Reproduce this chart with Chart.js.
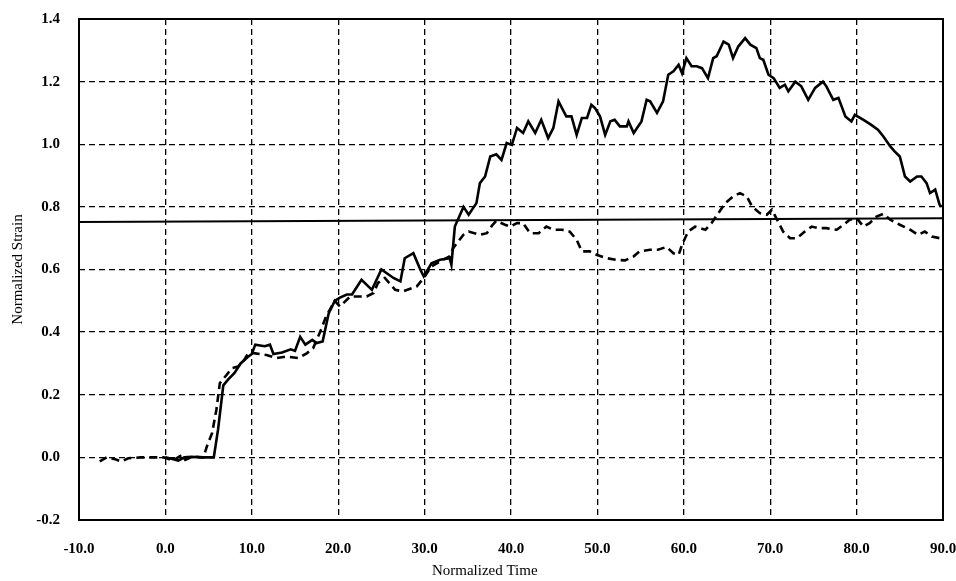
<!DOCTYPE html>
<html>
<head>
<meta charset="utf-8">
<script src="https://cdn.jsdelivr.net/npm/chart.js@4/dist/chart.umd.min.js"></script>
<style>
  html, body { margin: 0; padding: 0; background: #fff; }
  canvas { display: block; }
</style>
</head>
<body>
<canvas id="c" width="956" height="581"></canvas>
<script>
// ---- Data ----
const solidTime = [0,0.8,1.5,2.2,3,4,5,5.6,6.1,6.7,7.3,8.0,8.7,9.5,10.0,10.4,11.5,12.1,12.5,13.5,14.5,15.0,15.6,16.2,17.0,17.5,18.2,18.9,19.6,20.2,21.0,21.6,22.7,23.9,25.0,26.4,27.2,27.7,28.7,29.5,29.9,30.8,31.8,32.9,33.1,33.5,34.5,35.1,36.0,36.4,37.0,37.6,38.3,38.9,39.5,40.1,40.7,41.4,42.0,42.8,43.5,44.3,44.9,45.5,46.4,47.0,47.6,48.2,48.8,49.3,49.7,50.3,50.9,51.5,52.0,52.6,53.4,53.6,54.2,55.1,55.7,56.1,56.9,57.6,58.2,58.8,59.4,59.8,60.3,60.9,61.5,62.1,62.8,63.4,63.8,64.6,65.2,65.7,66.3,67.1,67.7,68.4,68.8,69.2,69.8,70.4,71.1,71.7,72.1,72.9,73.6,74.4,75.2,76.1,76.5,77.3,77.9,78.7,79.4,79.8,80.8,81.7,82.5,83.1,83.9,84.4,85.0,85.6,86.2,87.0,87.5,88.1,88.5,89.1,89.6,89.8];
const solidStrain = [0,-0.005,-0.01,0.0,0.002,0.0,0,0.0,0.09,0.23,0.25,0.27,0.30,0.32,0.33,0.36,0.355,0.36,0.33,0.335,0.345,0.34,0.385,0.36,0.375,0.365,0.37,0.46,0.50,0.51,0.52,0.52,0.567,0.535,0.60,0.573,0.562,0.636,0.652,0.60,0.578,0.62,0.631,0.636,0.615,0.737,0.80,0.775,0.812,0.876,0.897,0.961,0.968,0.95,1.004,0.998,1.052,1.036,1.073,1.036,1.078,1.02,1.052,1.137,1.089,1.089,1.03,1.084,1.084,1.126,1.116,1.089,1.03,1.073,1.078,1.057,1.057,1.073,1.036,1.073,1.142,1.137,1.10,1.137,1.222,1.233,1.254,1.227,1.275,1.249,1.249,1.243,1.211,1.275,1.281,1.328,1.318,1.275,1.312,1.339,1.318,1.307,1.275,1.27,1.222,1.211,1.18,1.19,1.169,1.2,1.185,1.142,1.18,1.2,1.185,1.142,1.148,1.089,1.073,1.094,1.078,1.062,1.046,1.025,0.993,0.977,0.961,0.897,0.881,0.897,0.897,0.876,0.844,0.855,0.807,0.801];

const dashedTime = [-7.6,-6.8,-5.8,-5.1,-4.3,-2.9,-1.4,-0.2,0.9,1.9,2.3,3.2,4.4,4.8,5.4,5.9,6.3,7.1,7.7,8.4,9.0,9.6,10.2,11.7,12.9,14.0,15.4,16.4,17.1,17.9,18.6,19.6,20.2,21.4,23.3,24.1,24.6,25.4,26.6,27.5,29.1,29.9,30.8,31.8,32.9,33.3,34.5,35.1,36.4,37.2,37.8,38.3,39.3,39.9,40.7,41.4,42.2,43.2,44.1,44.9,45.9,46.8,47.6,48.2,49.1,49.9,51.1,52.2,53.2,54.2,54.9,56.1,57.0,58.0,58.8,59.4,59.8,60.5,61.3,62.5,63.2,64.0,64.8,65.7,66.5,67.3,67.9,68.8,69.6,70.2,70.7,71.5,72.3,73.1,74.0,74.8,75.6,76.5,77.7,78.5,79.2,80.0,80.8,81.5,82.3,83.1,83.9,85.0,86.2,87.1,87.9,88.7,89.6];
const dashedStrain = [-0.013,0.0,-0.006,-0.013,-0.003,0,0,0,-0.01,0.008,-0.008,0.003,0.0,0.035,0.077,0.152,0.237,0.264,0.285,0.29,0.306,0.333,0.333,0.327,0.317,0.322,0.317,0.333,0.349,0.40,0.45,0.50,0.482,0.514,0.514,0.525,0.557,0.573,0.535,0.53,0.546,0.573,0.61,0.626,0.642,0.668,0.711,0.721,0.711,0.716,0.74,0.755,0.743,0.737,0.748,0.748,0.716,0.716,0.737,0.727,0.727,0.721,0.695,0.658,0.658,0.647,0.636,0.631,0.629,0.642,0.658,0.663,0.663,0.672,0.652,0.647,0.679,0.721,0.737,0.727,0.748,0.78,0.812,0.833,0.844,0.833,0.801,0.78,0.775,0.791,0.764,0.721,0.70,0.70,0.721,0.737,0.732,0.732,0.727,0.743,0.759,0.764,0.737,0.748,0.769,0.778,0.759,0.743,0.727,0.711,0.721,0.705,0.70];

const refTime = [-10, 90];
const refStrain = [0.752, 0.764];

const xTicks = [-10, 0, 10, 20, 30, 40, 50, 60, 70, 80, 90];
const yTicks = [-0.2, 0, 0.2, 0.4, 0.6, 0.8, 1.0, 1.2, 1.4];

const toPts = (xs, ys) => xs.map((x, i) => ({ x: x, y: ys[i] }));

const frame = {
  id: 'frame',
  afterDatasetsDraw(chart) {
    const { ctx, chartArea: a } = chart;
    ctx.save();
    ctx.strokeStyle = '#000';
    ctx.lineWidth = 2;
    ctx.setLineDash([]);
    ctx.strokeRect(a.left, a.top, a.right - a.left, a.bottom - a.top);
    ctx.restore();
  }
};

const tickFont = { family: 'Liberation Serif', size: 15, weight: 'bold' };
const titleFont = { family: 'Liberation Serif', size: 15 };

new Chart(document.getElementById('c'), {
  type: 'scatter',
  data: {
    datasets: [
      { data: toPts(solidTime, solidStrain), showLine: true, borderColor: '#000', borderWidth: 2.6, pointRadius: 0, tension: 0, fill: false },
      { data: toPts(dashedTime, dashedStrain), showLine: true, borderColor: '#000', borderWidth: 2.6, borderDash: [8, 5], pointRadius: 0, tension: 0, fill: false },
      { data: toPts(refTime, refStrain), showLine: true, borderColor: '#000', borderWidth: 2, pointRadius: 0, tension: 0, fill: false }
    ]
  },
  options: {
    responsive: false,
    animation: false,
    layout: { padding: { left: 0, right: 13, top: 19, bottom: 0 } },
    plugins: { legend: { display: false }, tooltip: { enabled: false } },
    scales: {
      x: {
        type: 'linear', min: -10, max: 90,
        afterBuildTicks: s => { s.ticks = xTicks.map(v => ({ value: v })); },
        afterFit: s => { s.height = 61; s.paddingLeft = 0; s.paddingRight = 0; },
        ticks: { color: '#000', font: tickFont, padding: 20, maxRotation: 0, callback: v => Number(v).toFixed(1) },
        grid: { color: '#000', lineWidth: 1.3, drawTicks: false },
        border: { display: false, dash: [6, 4] },
        title: { display: true, text: 'Normalized Time' + '\u0020'.repeat(14), color: '#000', font: titleFont, padding: { top: 0, bottom: 1 } }
      },
      y: {
        type: 'linear', min: -0.2, max: 1.4,
        afterBuildTicks: s => { s.ticks = yTicks.map(v => ({ value: v })); },
        afterFit: s => { s.width = 79; s.paddingTop = 0; s.paddingBottom = 0; },
        ticks: { color: '#000', font: tickFont, padding: 19, callback: v => Number(v).toFixed(1) },
        grid: { color: '#000', lineWidth: 1.3, drawTicks: false },
        border: { display: false, dash: [6, 4] },
        title: { display: true, text: 'Normalized Strain', color: '#000', font: titleFont, padding: { top: 9, bottom: 0 } }
      }
    }
  },
  plugins: [frame]
});
</script>
</body>
</html>
